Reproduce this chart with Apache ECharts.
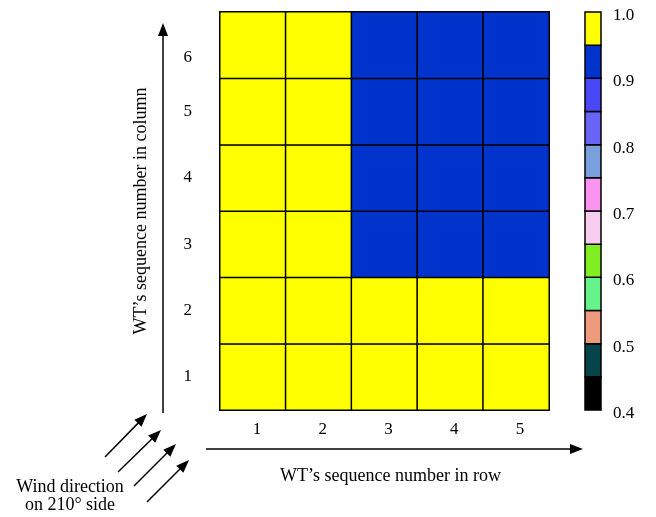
<!DOCTYPE html>
<html>
<head>
<meta charset="utf-8">
<script src="https://cdn.jsdelivr.net/npm/echarts@6/dist/echarts.min.js"></script>
<style>
  html, body { margin: 0; padding: 0; background: #fff; }
  #chart { width: 656px; height: 517px; }
</style>
</head>
<body>
<div id="chart"></div>
<script>
// Turbine positions in the wind farm layout
const colLabels = ['1', '2', '3', '4', '5'];
const rowLabels = ['1', '2', '3', '4', '5', '6'];

// Normalised power of each turbine, listed from row 1 (bottom) to row 6 (top)
const rowValues = [
  [1.0, 1.0, 1.0, 1.0, 1.0],
  [1.0, 1.0, 1.0, 1.0, 1.0],
  [1.0, 1.0, 0.92, 0.92, 0.92],
  [1.0, 1.0, 0.92, 0.92, 0.92],
  [1.0, 1.0, 0.92, 0.92, 0.92],
  [1.0, 1.0, 0.92, 0.92, 0.92]
];

// Colour scale bins (lower edge, upper edge, colour)
const binLower = [0.40, 0.45, 0.50, 0.55, 0.60, 0.65, 0.70, 0.75, 0.80, 0.85, 0.90, 0.95];
const binUpper = [0.45, 0.50, 0.55, 0.60, 0.65, 0.70, 0.75, 0.80, 0.85, 0.90, 0.95, 1.00];
const binColors = ['#000000', '#05444a', '#ee9a7c', '#66f48a', '#80ee22', '#f8ccee',
                   '#fa94f0', '#78a0dc', '#6a64f6', '#4a48f6', '#0033cc', '#ffff00'];

const serif = '"Liberation Serif", "Times New Roman", serif';

const cells = [];
rowValues.forEach((row, r) => row.forEach((v, c) => cells.push([c, r, v])));

const binData = binLower.map((lo, i) => [lo, binUpper[i], i]);

const pieces = binLower.map((lo, i) => ({
  gte: lo,
  lt: i === binLower.length - 1 ? 1.0001 : binUpper[i],
  color: binColors[i]
}));

function arrowHead(x, y, angle, len, half) {
  // triangle with its tip at (x, y) pointing along angle (radians)
  const bx = x - len * Math.cos(angle), by = y - len * Math.sin(angle);
  const px = -Math.sin(angle) * half, py = Math.cos(angle) * half;
  return {
    type: 'polygon',
    shape: { points: [[x, y], [bx + px, by + py], [bx - px, by - py]] },
    style: { fill: '#000' }
  };
}

function arrow(x1, y1, x2, y2) {
  const ang = Math.atan2(y2 - y1, x2 - x1);
  const len = 13;
  return [
    {
      type: 'line',
      shape: { x1: x1, y1: y1, x2: x2 - (len - 2) * Math.cos(ang), y2: y2 - (len - 2) * Math.sin(ang) },
      style: { stroke: '#000', lineWidth: 1.5 }
    },
    arrowHead(x2, y2, ang, len, 5)
  ];
}

const decorations = [].concat(
  arrow(163, 413, 163, 23),
  arrow(206, 449, 583, 449),
  arrow(105, 457, 147, 414),
  arrow(118, 472, 161, 430),
  arrow(134, 486, 176, 444),
  arrow(147, 502, 189, 460),
  [{
    type: 'text',
    x: 70, y: 487,
    style: { text: 'Wind direction', font: '18px ' + serif, fill: '#000', align: 'center', verticalAlign: 'middle' }
  }, {
    type: 'text',
    x: 70, y: 505,
    style: { text: 'on 210° side', font: '18px ' + serif, fill: '#000', align: 'center', verticalAlign: 'middle' }
  }]
);

const chart = echarts.init(document.getElementById('chart'), null, { renderer: 'canvas' });

chart.setOption({
  backgroundColor: '#fff',
  animation: false,
  textStyle: { fontFamily: serif },
  grid: [
    { left: 220, top: 12, width: 329, height: 398 },
    { left: 585, top: 12, width: 16, height: 398 }
  ],
  xAxis: [
    {
      gridIndex: 0,
      type: 'category',
      data: colLabels,
      axisLine: { show: false },
      axisTick: { show: false },
      splitLine: { show: false },
      axisLabel: { margin: 11, fontSize: 17, color: '#000', fontFamily: serif, padding: [0, 0, 0, 8] },
      name: 'WT\u2019s sequence number in row',
      nameLocation: 'middle',
      nameGap: 57,
      nameTextStyle: { fontSize: 18, color: '#000', fontFamily: serif, padding: [0, 0, 0, 12] }
    },
    {
      gridIndex: 1,
      type: 'value',
      min: 0, max: 1,
      show: false
    }
  ],
  yAxis: [
    {
      gridIndex: 0,
      type: 'category',
      data: rowLabels,
      axisLine: { show: false },
      axisTick: { show: false },
      splitLine: { show: false },
      axisLabel: {
        margin: 28, fontSize: 17, color: '#000', fontFamily: serif,
        formatter: v => (v === '6' ? '{low|' + v + '}' : v),
        rich: { low: { fontSize: 17, fontFamily: serif, color: '#000', padding: [24, 0, 0, 0] } }
      },
      name: 'WT\u2019s sequence number in column',
      nameLocation: 'middle',
      nameGap: 70,
      nameRotate: 90,
      nameTextStyle: { fontSize: 18, color: '#000', fontFamily: serif }
    },
    {
      gridIndex: 1,
      type: 'value',
      position: 'right',
      min: 0.4, max: 1.0, interval: 0.1,
      axisLine: { show: false },
      axisTick: { show: false },
      splitLine: { show: false },
      axisLabel: {
        margin: 12, fontSize: 17, color: '#000', fontFamily: serif,
        formatter: v => '{t|' + v.toFixed(1) + '}',
        rich: { t: { fontSize: 17, fontFamily: serif, color: '#000', padding: [7, 0, 0, 0] } }
      }
    }
  ],
  visualMap: {
    type: 'piecewise',
    show: false,
    seriesIndex: 0,
    dimension: 2,
    pieces: pieces
  },
  series: [
    {
      type: 'heatmap',
      xAxisIndex: 0,
      yAxisIndex: 0,
      data: cells,
      itemStyle: { borderColor: '#000', borderWidth: 1.5 },
      emphasis: { disabled: true }
    },
    {
      type: 'custom',
      xAxisIndex: 1,
      yAxisIndex: 1,
      data: binData,
      renderItem: function (params, api) {
        const top = api.coord([0, api.value(1)]);
        const bottom = api.coord([1, api.value(0)]);
        return {
          type: 'rect',
          shape: { x: top[0], y: top[1], width: bottom[0] - top[0], height: bottom[1] - top[1] },
          style: { fill: binColors[api.value(2)], stroke: '#000', lineWidth: 1.5 }
        };
      }
    }
  ],
  graphic: decorations
});
</script>
</body>
</html>
